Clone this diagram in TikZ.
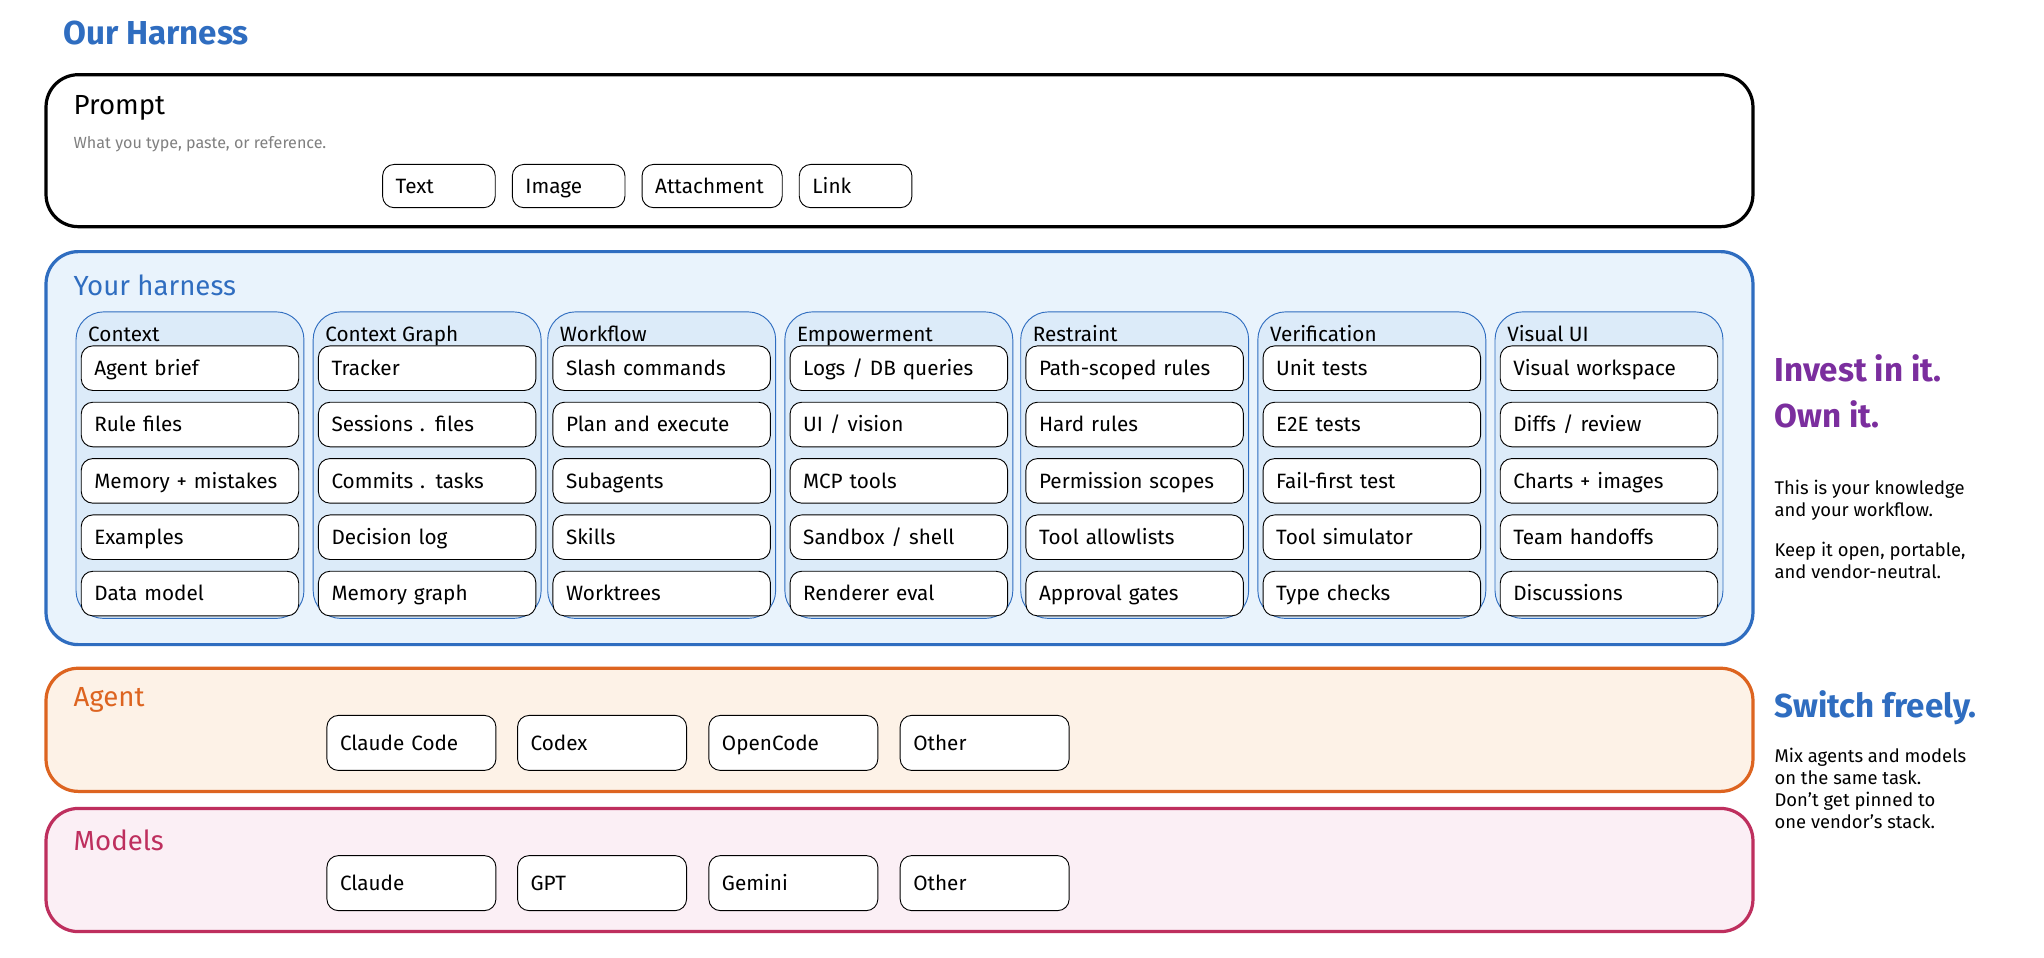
\documentclass[tikz,border=0pt]{standalone}
\usepackage{fontspec}
\setmainfont{Fira Sans}
\usetikzlibrary{positioning}

\definecolor{hblue}{HTML}{2F6DC0}
\definecolor{hbluefill}{HTML}{E9F3FC}
\definecolor{hcolfill}{HTML}{DCEBF9}
\definecolor{horange}{HTML}{DD6420}
\definecolor{horangefill}{HTML}{FDF2E7}
\definecolor{hpink}{HTML}{BE2F5E}
\definecolor{hpinkfill}{HTML}{FBEFF5}
\definecolor{hpurple}{HTML}{7B2E9E}

\tikzset{
  band/.style={draw, line width=1.4pt, rounded corners=14pt, minimum width=26.06cm},
  chip/.style={draw, fill=white, rounded corners=5pt, align=left, inner xsep=0.2cm, font=\small,
    text height=1.6ex, text depth=0.4ex},
  col/.style={draw=hblue, fill=hcolfill, rounded corners=12pt, minimum width=3.48cm, minimum height=4.68cm},
  item/.style={chip, text width=2.92cm, minimum height=0.68cm},
  bandtitle/.style={anchor=west, font=\large},
  side/.style={anchor=north west, align=left, font=\footnotesize, inner sep=0pt}
}

\begin{document}
\begin{tikzpicture}[x=0.02cm, y=-0.02cm]
  \path[use as bounding box, fill=white] (0,0) rectangle (1560,731);

  \node[anchor=west, text=hblue, font=\Large\bfseries] (title) at (42,25) {Our Harness};

  % prompt
  \node[band, minimum height=2.32cm] (prompt) at (686.5,115) {};
  \node[bandtitle] (ptitle) at (50,82) {Prompt};
  \node[anchor=west, text=gray, font=\scriptsize] (psub) at (50,110) {What you type, paste, or reference.};
  \node[chip, text width=1.32cm, minimum height=0.66cm] (text) at (335,142) {Text};
  \node[chip, text width=1.32cm, minimum height=0.66cm] (image) at (434,142) {Image};
  \node[chip, text width=1.74cm, minimum height=0.66cm] (attach) at (543.5,142) {Attachment};
  \node[chip, text width=1.32cm, minimum height=0.66cm] (link) at (653,142) {Link};

  % harness
  \node[band, draw=hblue, fill=hbluefill, minimum height=6cm] (harness) at (686.5,342) {};
  \node[bandtitle, text=hblue] (htitle) at (50,218) {Your harness};

  \foreach \x/\name/\items [count=\i] in {
      145/Context/{Agent brief,Rule files,Memory + mistakes,Examples,Data model},
      326/Context Graph/{Tracker,Sessions . files,Commits . tasks,Decision log,Memory graph},
      505/Workflow/{Slash commands,Plan and execute,Subagents,Skills,Worktrees},
      686/Empowerment/{Logs / DB queries,UI / vision,MCP tools,Sandbox / shell,Renderer eval},
      866/Restraint/{Path-scoped rules,Hard rules,Permission scopes,Tool allowlists,Approval gates},
      1047/Verification/{Unit tests,E2E tests,Fail-first test,Tool simulator,Type checks},
      1228/Visual UI/{Visual workspace,Diffs / review,Charts + images,Team handoffs,Discussions}} {
    \node[col] (col\i) at (\x,355) {};
    \node[anchor=west, font=\small, inner sep=0pt, text height=1.6ex, text depth=0.4ex] (coltitle\i) at (\x-78,255) {\name};
    \foreach \entry [count=\j] in \items {
      \node[item] (item\i-\j) at (\x,238+43*\j) {\entry};
    }
  }

  % agent
  \node[band, draw=horange, fill=horangefill, minimum height=1.88cm] (agent) at (686.5,557) {};
  \node[bandtitle, text=horange] (atitle) at (50,534) {Agent};
  \foreach \x/\name [count=\i] in {314/Claude Code,459.5/Codex,605.5/OpenCode,751.5/Other}
    \node[chip, text width=2.18cm, minimum height=0.84cm] (agent\i) at (\x,567) {\name};

  % models
  \node[band, draw=hpink, fill=hpinkfill, minimum height=1.88cm] (models) at (686.5,664) {};
  \node[bandtitle, text=hpink] (mtitle) at (50,641) {Models};
  \foreach \x/\name [count=\i] in {314/Claude,459.5/GPT,605.5/Gemini,751.5/Other}
    \node[chip, text width=2.18cm, minimum height=0.84cm] (model\i) at (\x,674) {\name};

  % side notes
  \node[side, text=hpurple, font=\Large\bfseries] (invest) at (1354,270) {Invest in it.\\[2pt]Own it.};
  \node[side] (know) at (1354,366) {This is your knowledge\\and your workflow.\\[8pt]Keep it open, portable,\\and vendor-neutral.};
  \node[side, text=hblue, font=\Large\bfseries] (switch) at (1354,527) {Switch freely.};
  \node[side] (mix) at (1354,571) {Mix agents and models\\on the same task.\\Don't get pinned to\\one vendor's stack.};
\end{tikzpicture}
\end{document}
